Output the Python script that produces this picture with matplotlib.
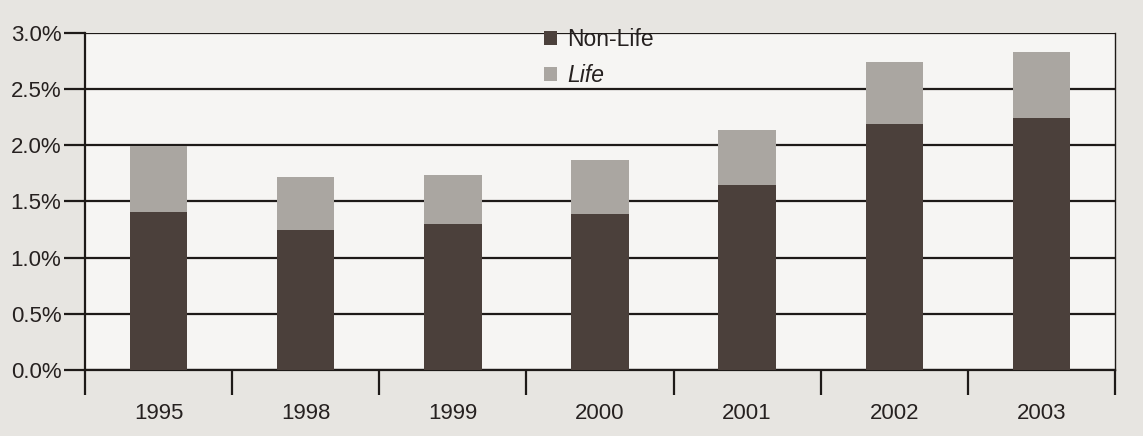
import numpy as np
import matplotlib
matplotlib.use("Agg")
import matplotlib.pyplot as plt
from matplotlib.ticker import FuncFormatter, FixedLocator

plt.rcParams['font.family'] = ['Liberation Sans', 'DejaVu Sans']

years = ['1995', '1998', '1999', '2000', '2001', '2002', '2003']
non_life = [1.41, 1.25, 1.30, 1.39, 1.65, 2.19, 2.24]
life = [0.58, 0.47, 0.44, 0.48, 0.49, 0.55, 0.59]

fig = plt.figure(figsize=(11.43, 4.36), dpi=100)
fig.patch.set_facecolor('#e7e5e1')
ax = fig.add_axes([0.0744, 0.1514, 0.901, 0.7729])
ax.set_facecolor('#f6f5f3')

x = np.arange(len(years))
ax.bar(x, non_life, width=0.39, color='#4b403b', label='Non-Life', zorder=3)
ax.bar(x, life, width=0.39, bottom=non_life, color='#aaa6a1', label='Life', zorder=3)

ax.set_xlim(-0.5, len(years) - 0.5)
ax.set_ylim(0, 3.0)
ax.set_yticks(np.arange(0, 3.01, 0.5))
ax.yaxis.set_major_formatter(FuncFormatter(lambda v, p: f'{v:.1f}%'))
ax.yaxis.grid(True, color='#1e1a18', linewidth=1.6, zorder=2)

ax.set_xticks(x)
ax.set_xticklabels(years)
ax.xaxis.set_minor_locator(FixedLocator(np.arange(-0.5, len(years), 1.0)))
ax.tick_params(axis='x', which='major', length=0, pad=24, labelsize=16, colors='#262120')
ax.tick_params(axis='x', which='minor', length=18, width=1.6, color='#1e1a18')
ax.tick_params(axis='y', length=15, width=1.6, color='#1e1a18', labelsize=16,
               labelcolor='#262120', pad=2)

for s in ['left', 'bottom', 'right']:
    ax.spines[s].set_color('#1e1a18')
    ax.spines[s].set_linewidth(1.6)
ax.spines['top'].set_visible(False)
ax.spines['right'].set_linewidth(1.0)

leg = ax.legend(loc='upper center', bbox_to_anchor=(0.499, 1.075), frameon=False,
                fontsize=16.5, handlelength=0.55, handleheight=0.55, handletextpad=0.45,
                labelspacing=0.55)
leg.get_texts()[1].set_style('italic')
for t in leg.get_texts():
    t.set_color('#262120')

fig.savefig('out.png', dpi=100, facecolor=fig.get_facecolor())
